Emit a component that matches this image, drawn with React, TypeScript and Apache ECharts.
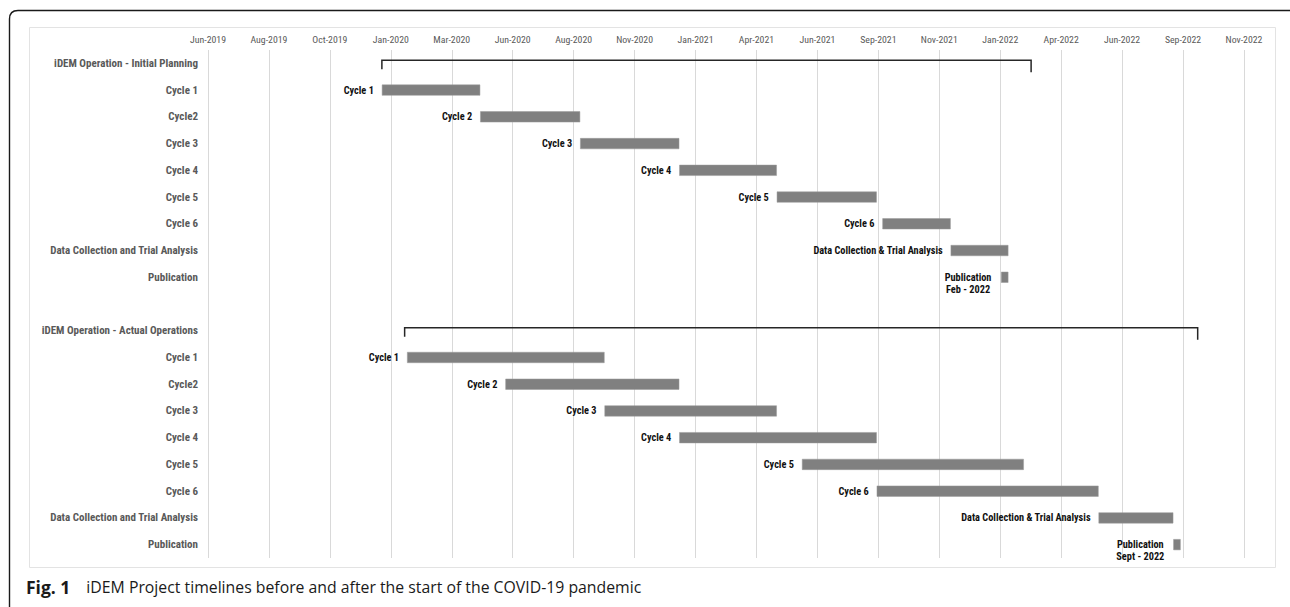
import React, { useEffect, useRef } from "react";
import * as echarts from "echarts";

const startDate = "2019-06-01";
const tickStepDays = 75;
const tickLabels = [
  "Jun-2019", "Aug-2019", "Oct-2019", "Jan-2020", "Mar-2020", "Jun-2020",
  "Aug-2020", "Nov-2020", "Jan-2021", "Apr-2021", "Jun-2021", "Sep-2021",
  "Nov-2021", "Jan-2022", "Apr-2022", "Jun-2022", "Sep-2022", "Nov-2022",
];
const rowLabels = [
  "iDEM Operation - Initial Planning", "Cycle 1", "Cycle2", "Cycle 3", "Cycle 4",
  "Cycle 5", "Cycle 6", "Data Collection and Trial Analysis", "Publication", "",
  "iDEM Operation - Actual Operations", "Cycle 1", "Cycle2", "Cycle 3", "Cycle 4",
  "Cycle 5", "Cycle 6", "Data Collection and Trial Analysis", "Publication",
];
const barStarts = [
  null, "2020-01-01", "2020-05-01", "2020-09-01", "2021-01-01", "2021-05-01",
  "2021-09-08", "2021-12-01", "2022-02-01", null,
  null, "2020-02-01", "2020-06-01", "2020-10-01", "2021-01-01", "2021-06-01",
  "2021-09-01", "2022-06-01", "2022-09-01",
];
const barEnds = [
  null, "2020-05-01", "2020-09-01", "2021-01-01", "2021-05-01", "2021-09-01",
  "2021-12-01", "2022-02-10", "2022-02-10", null,
  null, "2020-10-01", "2021-01-01", "2021-05-01", "2021-09-01", "2022-03-01",
  "2022-06-01", "2022-09-01", "2022-09-10",
];
const barLabels = [
  "", "Cycle 1", "Cycle 2", "Cycle 3", "Cycle 4", "Cycle 5", "Cycle 6",
  "Data Collection & Trial Analysis", "Publication\nFeb - 2022", "",
  "", "Cycle 1", "Cycle 2", "Cycle 3", "Cycle 4", "Cycle 5", "Cycle 6",
  "Data Collection & Trial Analysis", "Publication\nSept - 2022",
];
const bracketRows = [0, 10];
const bracketStarts = ["2020-01-01", "2020-01-29"];
const bracketEnds = ["2022-03-10", "2022-10-01"];

const captionBold = "Fig. 1";
const captionText = "iDEM Project timelines before and after the start of the COVID-19 pandemic";

const NARROW = "'Liberation Sans Narrow', 'Roboto Condensed', 'DejaVu Sans Condensed', Roboto, sans-serif";

function dayOf(d: string): number {
  return Math.round((Date.parse(d + "T00:00:00Z") - Date.parse(startDate + "T00:00:00Z")) / 86400000);
}

export default function App() {
  const ref = useRef<HTMLDivElement>(null);
  useEffect(() => {
    if (!ref.current) return;
    try {
      echarts.graphic.registerShape(
        "frameLine",
        echarts.graphic.extendPath("M9.5 607 L9.5 19 Q9.5 10.5 18 10.5 L1290 10.5", {})
      );
    } catch (e) {}
    const chart = echarts.init(ref.current, null, { renderer: "svg" });

    const baseData = barStarts.map((s) => (s ? dayOf(s) : "-"));
    const durData = barStarts.map((s, i) => {
      const e = barEnds[i];
      if (!s || !e) return "-";
      const isPub = barLabels[i].indexOf("\n") >= 0;
      const item: any = {
        value: dayOf(e) - dayOf(s),
        label: {
          show: true,
          formatter: barLabels[i],
        },
      };
      if (isPub) {
        item.label.position = [-33, 11.5];
        item.label.align = "center";
        item.label.verticalAlign = "middle";
        item.label.lineHeight = 12.5;
      }
      return item;
    });
    const bracketData = bracketRows.map((r, i) => [dayOf(bracketStarts[i]), dayOf(bracketEnds[i]), r]);

    const maxDay = tickStepDays * (tickLabels.length - 1);

    chart.setOption({
      animation: false,
      backgroundColor: "#ffffff",
      grid: { left: 208, right: 46, top: 50, bottom: 49, containLabel: false },
      xAxis: {
        type: "value",
        position: "top",
        min: 0,
        max: maxDay,
        interval: tickStepDays,
        axisLine: { show: false },
        axisTick: { show: false },
        axisLabel: {
          margin: 6,
          color: "#595959",
          fontSize: 9.8,
          fontFamily: NARROW,
          formatter: (v: number) => tickLabels[Math.round(v / tickStepDays)] ?? "",
        },
        splitLine: { show: true, lineStyle: { color: "#d9d9d9", width: 1 } },
      },
      yAxis: {
        type: "category",
        inverse: true,
        data: rowLabels,
        axisLine: { show: false },
        axisTick: { show: false },
        splitLine: { show: false },
        axisLabel: {
          margin: 10,
          color: "#595959",
          fontSize: 11,
          fontWeight: "bold",
          fontFamily: NARROW,
        },
      },
      series: [
        {
          type: "bar",
          stack: "gantt",
          data: baseData,
          barWidth: 11,
          silent: true,
          itemStyle: { color: "rgba(0,0,0,0)" },
        },
        {
          type: "bar",
          stack: "gantt",
          data: durData,
          barWidth: 11,
          itemStyle: { color: "#808080", borderColor: "#9a9a9a", borderWidth: 0.5 },
          label: {
            show: true,
            position: "left",
            distance: 8,
            color: "#111111",
            fontSize: 10.3,
            fontWeight: "bold",
            fontFamily: NARROW,
          },
        },
        {
          type: "custom",
          data: bracketData,
          encode: { x: [0, 1], y: 2 },
          renderItem: (params: any, api: any) => {
            const p1 = api.coord([api.value(0), api.value(2)]);
            const p2 = api.coord([api.value(1), api.value(2)]);
            return {
              type: "polyline",
              shape: {
                points: [
                  [p1[0], p1[1] + 6],
                  [p1[0], p1[1] - 3],
                  [p2[0], p2[1] - 3],
                  [p2[0], p2[1] + 9],
                ],
              },
              style: { stroke: "#262626", lineWidth: 1.5, fill: "none" },
            };
          },
        },
      ],
      graphic: [
        {
          type: "rect",
          shape: { x: 29.5, y: 27.5, width: 1246, height: 540 },
          style: { fill: "none", stroke: "#e3e3e3", lineWidth: 1 },
          silent: true,
          z: -1,
        },
        {
          type: "frameLine",
          x: 0,
          y: 0,
          scaleX: 1,
          scaleY: 1,
          style: { fill: "none", stroke: "#1a1a1a", lineWidth: 1.4 },
          silent: true,
        },
        {
          type: "text",
          x: 26,
          y: 587,
          style: {
            text: `{b|${captionBold}}{r|${captionText}}`,
            verticalAlign: "middle",
            rich: {
              b: {
                fontFamily: "'Open Sans', sans-serif",
                fontWeight: "bold",
                fontSize: 17.5,
                fill: "#1a1a1a",
                padding: [0, 16, 0, 0],
              },
              r: { fontFamily: "'Open Sans', sans-serif", fontWeight: "normal", fontSize: 15.8, fill: "#1a1a1a" },
            },
          },
        },
      ],
    });
    return () => chart.dispose();
  }, []);
  return (
    <div
      ref={ref}
      style={{ position: "absolute", left: 0, top: 0, width: 1290, height: 607, background: "#fff" }}
    />
  );
}
